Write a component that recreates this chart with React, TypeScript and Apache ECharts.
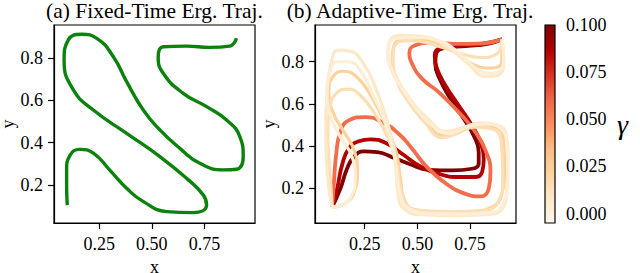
import React, { useEffect, useRef } from 'react';
import * as echarts from 'echarts';

// ---------- data ----------
const fixedTraj: [number, number][] = [
  [0.098, 0.105], [0.095, 0.2], [0.095, 0.27], [0.111, 0.34], [0.158, 0.368], [0.222, 0.35],
  [0.3, 0.27], [0.38, 0.184], [0.46, 0.121], [0.57, 0.074], [0.696, 0.069], [0.76, 0.105],
  [0.744, 0.153], [0.665, 0.231], [0.538, 0.334], [0.38, 0.444], [0.222, 0.554], [0.127, 0.649],
  [0.083, 0.79], [0.103, 0.886], [0.167, 0.912], [0.238, 0.893], [0.317, 0.806], [0.38, 0.688],
  [0.459, 0.554], [0.538, 0.46], [0.633, 0.373], [0.728, 0.302], [0.839, 0.271], [0.902, 0.274],
  [0.934, 0.334], [0.918, 0.428], [0.855, 0.507], [0.76, 0.57], [0.649, 0.633], [0.554, 0.728],
  [0.53, 0.806], [0.554, 0.853], [0.665, 0.856], [0.775, 0.85], [0.87, 0.856], [0.902, 0.893],
];

const trajG100: [number, number][] = [
  [0.095, 0.111], [0.134, 0.198], [0.166, 0.293], [0.198, 0.348], [0.245, 0.375], [0.309, 0.372],
  [0.38, 0.348], [0.459, 0.317], [0.554, 0.288], [0.665, 0.285], [0.759, 0.293], [0.791, 0.317],
  [0.791, 0.372], [0.767, 0.451], [0.72, 0.53], [0.657, 0.625], [0.609, 0.712], [0.585, 0.791],
  [0.589, 0.838], [0.625, 0.865], [0.728, 0.874], [0.839, 0.886], [0.902, 0.906],
];
const trajG087: [number, number][] = [
  [0.095, 0.111], [0.119, 0.198], [0.142, 0.309], [0.174, 0.388], [0.222, 0.423], [0.277, 0.432],
  [0.348, 0.416], [0.427, 0.364], [0.506, 0.309], [0.601, 0.269], [0.696, 0.254], [0.775, 0.254],
  [0.807, 0.277], [0.815, 0.34], [0.799, 0.419], [0.759, 0.498], [0.696, 0.593], [0.633, 0.688],
  [0.593, 0.767], [0.582, 0.83], [0.609, 0.865], [0.696, 0.874], [0.807, 0.884], [0.902, 0.906],
];
const trajG058: [number, number][] = [
  [0.095, 0.111], [0.104, 0.23], [0.114, 0.356], [0.134, 0.467], [0.174, 0.522], [0.253, 0.538],
  [0.332, 0.514], [0.411, 0.459], [0.475, 0.388], [0.538, 0.309], [0.633, 0.225], [0.728, 0.174],
  [0.8, 0.162], [0.839, 0.2], [0.847, 0.28], [0.823, 0.38], [0.775, 0.467], [0.696, 0.561],
  [0.601, 0.656], [0.522, 0.72], [0.475, 0.79], [0.462, 0.845], [0.49, 0.878], [0.56, 0.89],
  [0.68, 0.885], [0.791, 0.886], [0.902, 0.906],
];
const trajG022: [number, number][] = [
  [0.095, 0.111], [0.15, 0.125], [0.2, 0.18], [0.215, 0.28], [0.2, 0.38], [0.15, 0.47],
  [0.1, 0.56], [0.08, 0.66], [0.1, 0.73], [0.15, 0.755], [0.22, 0.72], [0.29, 0.62],
  [0.35, 0.5], [0.4, 0.37], [0.42, 0.24], [0.44, 0.14], [0.49, 0.1], [0.6, 0.09],
  [0.75, 0.09], [0.85, 0.11], [0.9, 0.17], [0.915, 0.3], [0.91, 0.43], [0.87, 0.49],
  [0.78, 0.5], [0.7, 0.47], [0.63, 0.45], [0.55, 0.5], [0.47, 0.6], [0.41, 0.7],
  [0.38, 0.8], [0.39, 0.88], [0.44, 0.91], [0.55, 0.9], [0.66, 0.86], [0.76, 0.79],
  [0.85, 0.77], [0.9, 0.8], [0.902, 0.906],
];
const trajG014: [number, number][] = [
  [0.095, 0.111], [0.09, 0.2], [0.08, 0.33], [0.075, 0.46], [0.085, 0.58], [0.12, 0.655],
  [0.17, 0.67], [0.23, 0.64], [0.3, 0.55], [0.36, 0.44], [0.4, 0.32], [0.42, 0.2],
  [0.45, 0.12], [0.52, 0.095], [0.66, 0.09], [0.8, 0.095], [0.88, 0.13], [0.905, 0.25],
  [0.9, 0.4], [0.86, 0.48], [0.77, 0.49], [0.69, 0.46], [0.62, 0.44], [0.53, 0.52],
  [0.45, 0.62], [0.4, 0.72], [0.385, 0.82], [0.4, 0.885], [0.47, 0.9], [0.58, 0.88],
  [0.7, 0.84], [0.8, 0.82], [0.88, 0.84], [0.902, 0.906],
];
const trajG008: [number, number][] = [
  [0.095, 0.111], [0.08, 0.2], [0.068, 0.35], [0.065, 0.5], [0.072, 0.66], [0.09, 0.79],
  [0.125, 0.855], [0.18, 0.85], [0.245, 0.79], [0.3, 0.68], [0.35, 0.54], [0.385, 0.4],
  [0.4, 0.27], [0.41, 0.16], [0.44, 0.1], [0.52, 0.075], [0.68, 0.07], [0.82, 0.075],
  [0.9, 0.1], [0.925, 0.2], [0.93, 0.34], [0.92, 0.46], [0.88, 0.5], [0.8, 0.51],
  [0.72, 0.49], [0.64, 0.47], [0.55, 0.53], [0.46, 0.63], [0.4, 0.73], [0.36, 0.83],
  [0.37, 0.9], [0.42, 0.925], [0.52, 0.92], [0.63, 0.88], [0.73, 0.8], [0.83, 0.73],
  [0.89, 0.74], [0.91, 0.82], [0.902, 0.906],
];
const trajG003: [number, number][] = [
  [0.095, 0.111], [0.14, 0.12], [0.185, 0.16], [0.205, 0.25], [0.19, 0.35], [0.13, 0.45],
  [0.085, 0.55], [0.07, 0.65], [0.085, 0.75], [0.12, 0.8], [0.17, 0.8], [0.235, 0.75],
  [0.29, 0.64], [0.345, 0.52], [0.385, 0.38], [0.405, 0.25], [0.425, 0.15], [0.46, 0.105],
  [0.56, 0.08], [0.72, 0.078], [0.84, 0.085], [0.905, 0.12], [0.93, 0.25], [0.925, 0.4],
  [0.9, 0.48], [0.82, 0.505], [0.73, 0.49], [0.66, 0.46], [0.58, 0.49], [0.5, 0.57],
  [0.43, 0.67], [0.37, 0.78], [0.36, 0.87], [0.4, 0.91], [0.49, 0.915], [0.6, 0.9],
  [0.7, 0.84], [0.79, 0.76], [0.86, 0.745], [0.91, 0.8], [0.902, 0.906],
];

const adaptiveTrajs = [trajG100, trajG087, trajG058, trajG022, trajG014, trajG008, trajG003];
const gammas = [0.1, 0.087, 0.058, 0.022, 0.014, 0.008, 0.003];

const xTicks = [0.25, 0.5, 0.75];
const yTicks = [0.2, 0.4, 0.6, 0.8];
const cbTicks = [0.0, 0.025, 0.05, 0.075, 0.1];
const cbRange = [-0.005, 0.1];

// ---------- styling ----------
const ORRD = ['#fff7ec', '#fee8c8', '#fdd49e', '#fdbb84', '#fc8d59', '#ef6548', '#d7301f', '#b30000', '#7f0000'];
const FONT = "'Liberation Serif', 'Times New Roman', serif";

function hexToRgb(h: string) {
  return [parseInt(h.slice(1, 3), 16), parseInt(h.slice(3, 5), 16), parseInt(h.slice(5, 7), 16)];
}
function orrd(g: number) {
  let t = (g - cbRange[0]) / (cbRange[1] - cbRange[0]);
  t = Math.max(0, Math.min(1, t));
  const p = t * (ORRD.length - 1);
  const i = Math.min(ORRD.length - 2, Math.floor(p));
  const f = p - i;
  const a = hexToRgb(ORRD[i]);
  const b = hexToRgb(ORRD[i + 1]);
  const c = a.map((v, k) => Math.round(v + (b[k] - v) * f));
  return `rgb(${c[0]},${c[1]},${c[2]})`;
}

const textBase = { fontFamily: FONT, fontSize: 18, color: '#000' };

function xAxisCfg(gridIndex: number, min: number, max: number) {
  return {
    type: 'value', gridIndex, min, max,
    name: 'x', nameLocation: 'middle', nameGap: 27,
    nameTextStyle: { ...textBase, lineHeight: 18 },
    axisLine: { show: true, onZero: false, lineStyle: { color: '#000', width: 1.2 } },
    splitLine: { show: false },
    axisTick: { show: true, inside: false, length: 6, customValues: xTicks, lineStyle: { color: '#000', width: 1.2 } },
    axisLabel: { customValues: xTicks, formatter: (v: number) => v.toFixed(2), margin: 12, ...textBase },
  };
}
function yAxisCfg(gridIndex: number, min: number, max: number) {
  return {
    type: 'value', gridIndex, min, max,
    name: 'y', nameLocation: 'middle', nameGap: 34,
    nameTextStyle: { ...textBase, lineHeight: 18 },
    axisLine: { show: true, onZero: false, lineStyle: { color: '#000', width: 1.2 } },
    splitLine: { show: false },
    axisTick: { show: true, inside: false, length: 6, customValues: yTicks, lineStyle: { color: '#000', width: 1.2 } },
    axisLabel: { customValues: yTicks, formatter: (v: number) => v.toFixed(1), margin: 11, ...textBase },
  };
}

export default function App() {
  const ref = useRef<HTMLDivElement>(null);
  useEffect(() => {
    if (!ref.current) return;
    const chart = echarts.init(ref.current, undefined, { renderer: 'svg' });
    const gridBase = {
      show: true, borderColor: '#000', borderWidth: 1.2, backgroundColor: 'transparent',
      containLabel: false, outerBoundsMode: 'none',
    };
    const series: any[] = [
      {
        type: 'line', xAxisIndex: 0, yAxisIndex: 0, data: fixedTraj, smooth: 0.5,
        showSymbol: false, lineStyle: { color: '#0b820b', width: 3.4 },
      },
      ...adaptiveTrajs.map((d, i) => ({
        type: 'line', xAxisIndex: 1, yAxisIndex: 1, data: d, smooth: 0.5,
        showSymbol: false, lineStyle: { color: orrd(gammas[i]), width: gammas[i] > 0.04 ? 3.8 : 3.2 },
      })),
    ];
    chart.setOption({
      animation: false,
      textStyle: { fontFamily: FONT },
      grid: [
        { ...gridBase, left: 54, top: 25, width: 201, height: 198 },
        { ...gridBase, left: 315, top: 25, width: 201, height: 198 },
        { show: false, containLabel: false, outerBoundsMode: 'none', left: 545, top: 25, width: 10, height: 198 },
      ],
      xAxis: [
        xAxisCfg(0, 0.035, 0.99),
        xAxisCfg(1, 0.014, 0.968),
        { type: 'value', gridIndex: 2, min: 0, max: 1, show: false },
      ],
      yAxis: [
        yAxisCfg(0, 0.02, 0.956),
        yAxisCfg(1, 0.036, 0.974),
        {
          type: 'value', gridIndex: 2, min: cbRange[0], max: cbRange[1], position: 'right',
          name: 'γ', nameLocation: 'middle', nameGap: 62, nameRotate: 0,
          nameTextStyle: { fontFamily: FONT, fontSize: 28, fontStyle: 'italic', color: '#000' },
          axisLine: { show: false },
          splitLine: { show: false },
          axisTick: { show: true, inside: false, length: 6, customValues: cbTicks, lineStyle: { color: '#000', width: 1.2 } },
          axisLabel: { customValues: cbTicks, formatter: (v: number) => v.toFixed(3), margin: 11, ...textBase },
        },
      ],
      graphic: [
        {
          type: 'rect', shape: { x: 545, y: 25, width: 10, height: 198 }, z: 10,
          style: {
            fill: new echarts.graphic.LinearGradient(0, 1, 0, 0, ORRD.map((c, i) => ({ offset: i / (ORRD.length - 1), color: c }))),
            stroke: '#000', lineWidth: 1.2,
          },
        },
        {
          type: 'text', x: 154.5, y: 11,
          style: { text: '(a) Fixed-Time Erg. Traj.', align: 'center', verticalAlign: 'middle', fontFamily: FONT, fontSize: 21.5, fill: '#000' },
        },
        {
          type: 'text', x: 410, y: 11,
          style: { text: '(b) Adaptive-Time Erg. Traj.', align: 'center', verticalAlign: 'middle', fontFamily: FONT, fontSize: 21.5, fill: '#000' },
        },
      ],
      series,
    });
    return () => chart.dispose();
  }, []);
  return <div ref={ref} style={{ position: 'fixed', left: 0, top: 0, width: 640, height: 273, background: '#fff' }} />;
}
